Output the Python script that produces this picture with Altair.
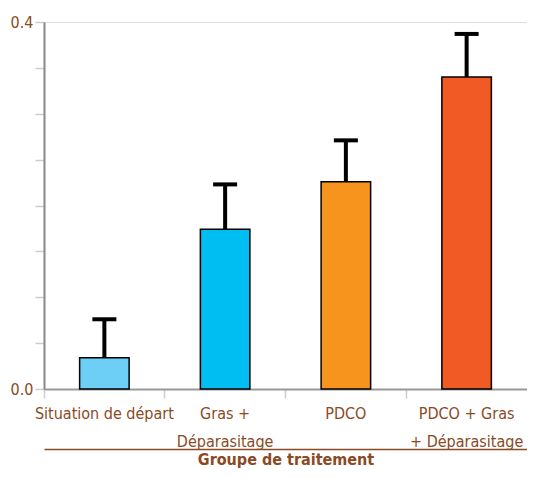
import altair as alt
import pandas as pd

categories = ["Situation de départ", "Gras +\nDéparasitage", "PDCO", "PDCO + Gras\n+ Déparasitage"]
means = [0.034, 0.174, 0.226, 0.340]
upper = [0.076, 0.223, 0.271, 0.387]
colors = ["#6DCFF6", "#00BDF2", "#F7941D", "#F15A24"]
y_ticks = [0.0, 0.05, 0.1, 0.15, 0.2, 0.25, 0.3, 0.35, 0.4]

df = pd.DataFrame({"group": categories, "mean": means, "upper": upper, "color": colors})

BROWN = "#8A4A24"
FONT = "DejaVu Sans Condensed, Liberation Sans Narrow, Roboto, sans-serif"

xscale = alt.Scale(domain=categories, paddingInner=0, paddingOuter=0)
yscale = alt.Scale(domain=[0, 0.4], nice=False)

bars = alt.Chart(df).mark_bar(width={"band": 0.41}, stroke="black", strokeWidth=1.5, opacity=1).encode(
    x=alt.X("group:N", sort=categories, scale=xscale,
            axis=alt.Axis(title=None, labelAngle=0, labelExpr="split(datum.label, '\\n')",
                          labelFont=FONT, labelFontSize=16, labelColor=BROWN,
                          labelLineHeight=28, labelPadding=7,
                          bandPosition=0, tickColor="#cccccc", tickSize=9, tickWidth=1.5,
                          domainColor="#999999", domainWidth=2, orient="bottom")),
    y=alt.Y("mean:Q", scale=yscale,
            axis=alt.Axis(title=None, values=y_ticks, format=".1f",
                          labelExpr="(datum.value == 0 || datum.value == 0.4) ? datum.label : ''",
                          labelFont=FONT, labelFontSize=16, labelColor=BROWN, labelPadding=2,
                          tickColor="#cccccc", tickSize=9, tickWidth=1.5,
                          domainColor="#888888", domainWidth=2, grid=False)),
    color=alt.Color("color:N", scale=None),
)

err = alt.Chart(df).mark_rule(color="black", strokeWidth=4, opacity=1).encode(
    x=alt.X("group:N", sort=categories, scale=xscale,
            axis=alt.Axis(title="Groupe de traitement", labels=False, ticks=False,
                          domainColor=BROWN, domainWidth=1.5, offset=60, orient="bottom",
                          titleFont=FONT, titleFontSize=16, titleFontWeight="bold",
                          titleColor=BROWN, titlePadding=2)),
    y=alt.Y("mean:Q", scale=yscale),
    y2="upper:Q",
)

caps = alt.Chart(df).mark_tick(color="black", thickness=4, size=24, opacity=1).encode(
    x=alt.X("group:N", sort=categories, scale=xscale, axis=None),
    y=alt.Y("upper:Q", scale=yscale),
)

chart = alt.layer(bars, err, caps).resolve_axis(x="independent").properties(
    width=483, height=367, autosize="none",
    padding={"left": 36, "top": 14, "right": 0, "bottom": 80},
).configure_view(stroke="#888888", strokeWidth=2).configure(background="white")

chart.save("out.html", embed_options={"renderer": "svg", "actions": False})
